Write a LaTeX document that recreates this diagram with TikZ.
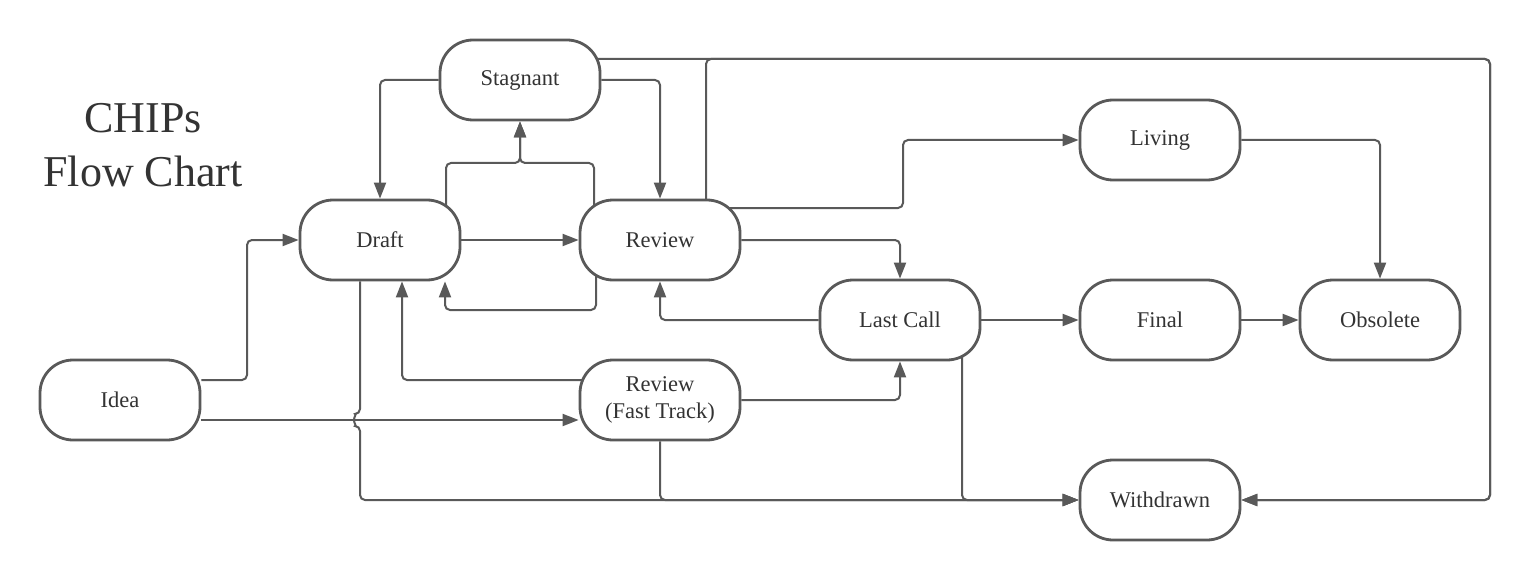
\documentclass[tikz,border=0pt]{standalone}
\usepackage{fontspec}
\setmainfont{Liberation Serif}
\usetikzlibrary{arrows.meta,backgrounds,calc}
\pgfdeclarelayer{bottom}
\pgfsetlayers{bottom,background,main}
\definecolor{linec}{HTML}{595959}
\definecolor{textc}{HTML}{333333}
\begin{document}
\begin{tikzpicture}[x=1pt,y=-1pt,
  state/.style={draw=linec, line width=2.8pt, fill=white, rounded corners=33pt,
    minimum width=160pt, minimum height=80pt, inner sep=0pt, align=center,
    text=textc, font=\fontsize{22.5}{27}\selectfont},
  edge/.style={draw=linec, line width=2pt, rounded corners=5pt,
    -{Triangle[length=16pt,width=12pt]}}]
\useasboundingbox (0,0) rectangle (1530,580);
\begin{pgfonlayer}{bottom}
\fill[white] (0,0) rectangle (1530,580);
\end{pgfonlayer}

\node[text=textc, align=center, font=\fontsize{44}{54}\selectfont] (title) at (143,145) {CHIPs\\Flow Chart};

\node[state] (stagnant) at (520,80) {Stagnant};
\node[state] (draft) at (380,240) {Draft};
\node[state] (review) at (660,240) {Review};
\node[state] (living) at (1160,140) {Living};
\node[state] (lastcall) at (900,320) {Last Call};
\node[state] (final) at (1160,320) {Final};
\node[state] (obsolete) at (1380,320) {Obsolete};
\node[state] (idea) at (120,400) {Idea};
\node[state] (rft) at (660,400) {Review\\(Fast Track)};
\node[state] (withdrawn) at (1160,500) {Withdrawn};

\begin{pgfonlayer}{background}
% Idea
\draw[edge] ([yshift=20pt]idea.east) -| (247,240) -- (draft.west);
\draw[edge] ([yshift=-20pt]idea.east) -- ([yshift=-20pt]rft.west);
% Draft / Review / Stagnant
\draw[edge] (draft.east) -- (review.west);
\draw[edge] ([xshift=66pt]draft.center) |- (520,163) -- (stagnant.south);
\draw[edge] ([xshift=-66pt]review.center) |- (520,163) -- (stagnant.south);
\draw[edge] (stagnant.west) -| (draft.north);
\draw[edge] (stagnant.east) -| (review.north);
\draw[edge] ([xshift=-64pt]review.center) |- (445,310) -- ([xshift=65pt]draft.south);
% to Withdrawn along the top
\draw[edge] ([yshift=21pt]stagnant.center) -- (1490,59) |- (withdrawn.east);
\draw[edge] ([xshift=46pt]review.center) |- (1490,59) |- (withdrawn.east);
% Review onwards
\draw[edge] ([yshift=32pt]review.center) -| (903,140) -- (living.west);
\draw[edge] (review.east) -| (lastcall.north);
\draw[edge] (lastcall.west) -| (review.south);
\draw[edge] (lastcall.east) -- (final.west);
\draw[edge] (final.east) -- (obsolete.west);
\draw[edge] (living.east) -| (obsolete.north);
% Fast track
\draw[edge] ([yshift=20pt]rft.center) -| ([xshift=22pt]draft.south);
\draw[edge] (rft.east) -| (lastcall.south);
% Withdrawn from below
\draw[edge] ([xshift=-20pt]draft.south) -- (360,414) arc[start angle=90, end angle=270, radius=6pt] -- (360,500) -- (withdrawn.west);
\draw[edge] (rft.south) |- (withdrawn.west);
\draw[edge] ([xshift=62pt]lastcall.center) |- (withdrawn.west);
\end{pgfonlayer}
\end{tikzpicture}
\end{document}
